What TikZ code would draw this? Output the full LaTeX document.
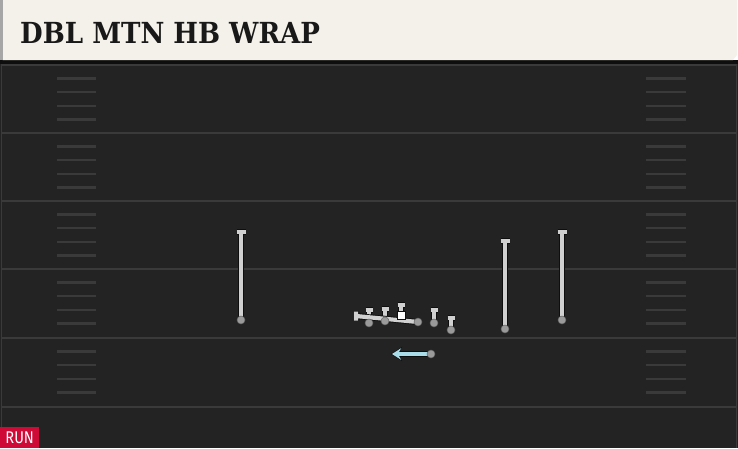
\documentclass[tikz,border=0pt]{standalone}
\usepackage{fontspec}
\newfontfamily\titlefont{DejaVu Serif Condensed Bold}
\newfontfamily\runfont{Fira Sans}
\usetikzlibrary{arrows.meta,positioning}
\definecolor{fieldbg}{HTML}{232323}
\definecolor{yardline}{HTML}{3A3A3A}
\definecolor{hashcol}{HTML}{3A3A3A}
\definecolor{titlebg}{HTML}{F4F1EA}
\definecolor{routegray}{HTML}{D0D0D0}
\definecolor{routeedge}{HTML}{0E0E0E}
\definecolor{dotgray}{HTML}{9A9A9A}
\definecolor{hbblue}{HTML}{A9DDEA}
\definecolor{runred}{HTML}{CF0A37}
\pgfdeclarelayer{field}
\pgfdeclarelayer{routes}
\pgfsetlayers{field,routes,main}

\begin{document}
\begin{tikzpicture}[x=1pt,y=-1pt,
    player/.style={circle, fill=dotgray, draw=routeedge!40!dotgray, line width=0.5pt, inner sep=0pt, minimum size=8pt},
    snapper/.style={rectangle, fill=white, draw=routeedge, line width=0.5pt, inner sep=0pt, minimum size=8pt},
    block/.style={draw=routeedge, line width=6pt, line cap=square,
      postaction={draw=routegray, line width=4.2pt, line cap=square}},
    hbroute/.style={draw=routeedge, line width=5.6pt,
      -{Stealth[length=11pt,width=14pt,inset=4pt,fill=routeedge]},
      postaction={draw=hbblue, line width=3.8pt, shorten >=1pt,
        -{Stealth[length=9pt,width=11.4pt,inset=3.2pt,fill=hbblue]}}}]
  \useasboundingbox (0,0) rectangle (738,448);

  \begin{pgfonlayer}{field}
    \fill[fieldbg] (0,60) rectangle (738,448);
    \fill[routeedge] (0,60) rectangle (738,64);
    \draw[yardline, line width=1.5pt] (1.5,64) -- (1.5,448) (736.5,64) -- (736.5,448);
    \foreach \y in {65,133,201,269,338,407}
      \draw[yardline, line width=2.2pt] (1.5,\y) -- (736.5,\y);
    \foreach \y in {65,133,201,269,338}
      \foreach \k in {1,...,4} {
        \draw[hashcol, line width=2.4pt] (57,\y+13.6*\k) -- (96,\y+13.6*\k);
        \draw[hashcol, line width=2.4pt] (646,\y+13.6*\k) -- (686,\y+13.6*\k);
      }
    \fill[titlebg] (2.5,0) -- (737,0) -- (737,55) -- (733,60) -- (2.5,60) -- cycle;
    \fill[black!35] (0,0) rectangle (2.5,60);
  \end{pgfonlayer}

  \node[anchor=base west, inner sep=0pt, text=black!90, font=\titlefont\fontsize{29}{29}\selectfont] (title) at (20,43) {DBL MTN HB WRAP};
  \node[anchor=south west, fill=runred, text=white, inner sep=0pt, minimum width=39pt, minimum height=21pt,
    font=\runfont\fontsize{17}{17}\selectfont] (run) at (0,448) {\scalebox{0.86}[1]{RUN}};

  \node[player] (wrl) at (241,320) {};
  \node[player] (slot) at (505,329) {};
  \node[player] (wrr) at (562,320) {};
  \node[player] (lt) at (369,323) {};
  \node[player] (lg) at (385,321) {};
  \node[snapper] (c) at (401,315) {};
  \node[player] (rg) at (418,322) {};
  \node[player] (rt) at (434,323) {};
  \node[player] (te) at (451,330) {};
  \node[player] (hb) at (431,354) {};

  \coordinate (wrl end) at (241,232);
  \coordinate (slot end) at (505,241);
  \coordinate (wrr end) at (562,232);
  \coordinate (lt end) at (369,310);
  \coordinate (lg end) at (385,309);
  \coordinate (c end) at (401,305);
  \coordinate (rg end) at (356,316);
  \coordinate (rt end) at (434,310);
  \coordinate (te end) at (451,318);
  \coordinate (hb end) at (391,354);

  \begin{pgfonlayer}{routes}
    \foreach \p in {wrl,slot,wrr}
      \draw[block] (\p.center) -- (\p\space end) ++(-4.5,0) -- ++(9,0);
    \foreach \p in {lt,lg,c,rt,te}
      \draw[block] (\p.center) -- (\p\space end) ++(-3.5,0) -- ++(7,0);
    \draw[block] (rg.center) -- (rg end) ++(0,-4.5) -- ++(0,9);
    \draw[hbroute] (hb.center) -- (hb end);
  \end{pgfonlayer}
\end{tikzpicture}
\end{document}
